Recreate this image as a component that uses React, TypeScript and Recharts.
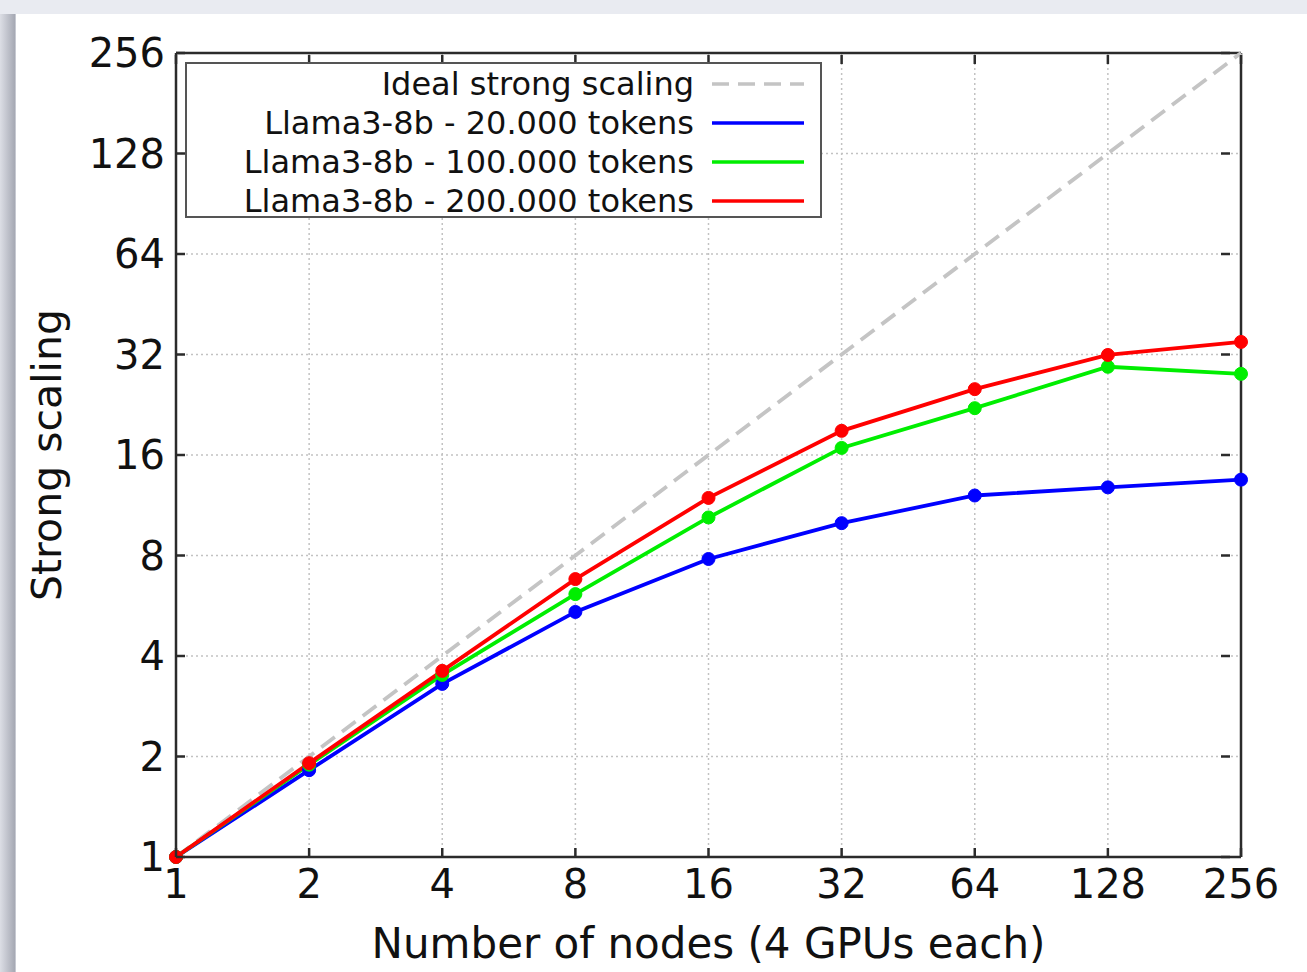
import { LineChart, Line, XAxis, YAxis, CartesianGrid, ReferenceLine } from 'recharts'

// nodes (4 GPUs each) and measured strong-scaling speedup per context length
const nodes = [1, 2, 4, 8, 16, 32, 64, 128, 256]
const ideal = [1, 2, 4, 8, 16, 32, 64, 128, 256]
const tokens20k = [1, 1.82, 3.3, 5.42, 7.81, 10.0, 12.1, 12.8, 13.5]
const tokens100k = [1, 1.89, 3.51, 6.13, 10.4, 16.8, 22.1, 29.4, 28.0]
const tokens200k = [1, 1.91, 3.61, 6.8, 11.9, 18.9, 25.2, 31.9, 34.9]
const ticks = [1, 2, 4, 8, 16, 32, 64, 128, 256]

const series = [
  { key: 'ideal', name: 'Ideal strong scaling', color: '#c4c4c4', dash: '17 9' },
  { key: 't20k', name: 'Llama3-8b - 20.000 tokens', color: '#0000ff' },
  { key: 't100k', name: 'Llama3-8b - 100.000 tokens', color: '#00ee00' },
  { key: 't200k', name: 'Llama3-8b - 200.000 tokens', color: '#ff0000' },
]

const data = nodes.map((n, i) => ({
  nodes: n,
  ideal: ideal[i],
  t20k: tokens20k[i],
  t100k: tokens100k[i],
  t200k: tokens200k[i],
}))

const FONT = '"DejaVu Sans", Verdana, sans-serif'
const AXIS = '#2b2b2b'

const LeftTick = ({ x, y, payload }: any) => (
  <g>
    <line x1={x + 10} y1={y} x2={x + 19} y2={y} stroke={AXIS} strokeWidth={2.5} />
    <text x={x - 1} y={y} dy={14} textAnchor="end" fontSize={40} fill="#111" fontFamily={FONT}>
      {payload.value}
    </text>
  </g>
)

const BottomTick = ({ x, y, payload }: any) => (
  <g>
    <line x1={x} y1={y - 2} x2={x} y2={y - 11} stroke={AXIS} strokeWidth={2.5} />
    <text x={x} y={y} dy={39} textAnchor="middle" fontSize={40} fill="#111" fontFamily={FONT}>
      {payload.value}
    </text>
  </g>
)

// top and right edges only carry inward tick marks, no labels
const RightTick = ({ x, y }: any) => (
  <line x1={x - 11} y1={y} x2={x - 20} y2={y} stroke={AXIS} strokeWidth={2.5} />
)

const TopTick = ({ x, y }: any) => (
  <line x1={x} y1={y + 2} x2={x} y2={y + 11} stroke={AXIS} strokeWidth={2.5} />
)

const LegendBox = () => (
  <div
    style={{
      position: 'absolute',
      left: 185,
      top: 62,
      boxSizing: 'border-box',
      width: 637,
      height: 156,
      border: '2.5px solid #555',
      background: '#fff',
      padding: '0px 16px 0px 10px',
      fontFamily: FONT,
      fontSize: 32,
      color: '#111',
    }}
  >
    {series.map((s) => (
      <div key={s.key} style={{ display: 'flex', alignItems: 'center', justifyContent: 'flex-end', height: 39 }}>
        <span style={{ marginRight: 18 }}>{s.name}</span>
        <svg width={92} height={8}>
          <line x1={0} y1={4} x2={92} y2={4} stroke={s.color} strokeWidth={3.5} strokeDasharray={s.dash} />
        </svg>
      </div>
    ))}
  </div>
)

export default function App() {
  return (
    <div
      style={{
        position: 'absolute',
        left: 0,
        top: 0,
        width: 1307,
        height: 972,
        background: 'linear-gradient(to right, #dcdee5 0px, #a5a8b3 15px, #e9ebf1 16px)',
        overflow: 'hidden',
      }}
    >
      <div style={{ position: 'absolute', left: 0, top: 0, width: 1307, height: 14, background: '#e9ebf1' }} />
      <div style={{ position: 'absolute', left: 16, top: 14, width: 1291, height: 958, background: '#fff' }} />
      <div style={{ position: 'absolute', left: 0, top: 0 }}>
        <LineChart
          width={1307}
          height={972}
          data={data}
          margin={{ top: 43, right: 56, bottom: 55, left: 96 }}
        >
          <CartesianGrid stroke="#c2c2c2" strokeWidth={1.5} strokeDasharray="2 3" />
          <XAxis
            dataKey="nodes"
            type="number"
            scale="log"
            domain={[1, 256]}
            ticks={ticks}
            interval={0}
            height={60}
            axisLine={{ stroke: AXIS, strokeWidth: 2.5 }}
            tickLine={false}
            tickSize={0}
            tick={<BottomTick />}
            label={{ value: 'Number of nodes (4 GPUs each)', position: 'insideBottom', offset: -41, fontSize: 42, fill: '#111', fontFamily: FONT }}
          />
          <XAxis
            xAxisId="top"
            dataKey="nodes"
            orientation="top"
            type="number"
            scale="log"
            domain={[1, 256]}
            ticks={ticks}
            interval={0}
            height={10}
            axisLine={false}
            tickLine={false}
            tickSize={0}
            tickMargin={0}
            tick={<TopTick />}
          />
          <YAxis
            type="number"
            scale="log"
            domain={[1, 256]}
            ticks={ticks}
            interval={0}
            width={80}
            axisLine={{ stroke: AXIS, strokeWidth: 2.5 }}
            tickLine={false}
            tickSize={0}
            tickMargin={10}
            tick={<LeftTick />}
            label={{ value: 'Strong scaling', angle: -90, position: 'insideLeft', offset: -50, fontSize: 41, fill: '#111', fontFamily: FONT, style: { textAnchor: 'middle' } }}
          />
          <YAxis
            yAxisId="right"
            orientation="right"
            type="number"
            scale="log"
            domain={[1, 256]}
            ticks={ticks}
            interval={0}
            width={10}
            axisLine={false}
            tickLine={false}
            tickSize={0}
            tickMargin={0}
            tick={<RightTick />}
          />
          <ReferenceLine xAxisId="top" yAxisId="right" y={256} stroke={AXIS} strokeWidth={2.5} ifOverflow="visible" />
          <ReferenceLine xAxisId="top" yAxisId="right" x={256} stroke={AXIS} strokeWidth={2.5} ifOverflow="visible" />
          {series.map((s) => (
            <Line
              key={s.key}
              dataKey={s.key}
              name={s.name}
              xAxisId={s.dash ? 'top' : 0}
              yAxisId={s.dash ? 'right' : 0}
              type="linear"
              stroke={s.color}
              strokeWidth={3.8}
              strokeDasharray={s.dash}
              dot={s.dash ? false : { r: 6.5, fill: s.color, stroke: s.color, strokeWidth: 1 }}
              activeDot={false}
              isAnimationActive={false}
            />
          ))}
        </LineChart>
      </div>
      <LegendBox />
    </div>
  )
}
